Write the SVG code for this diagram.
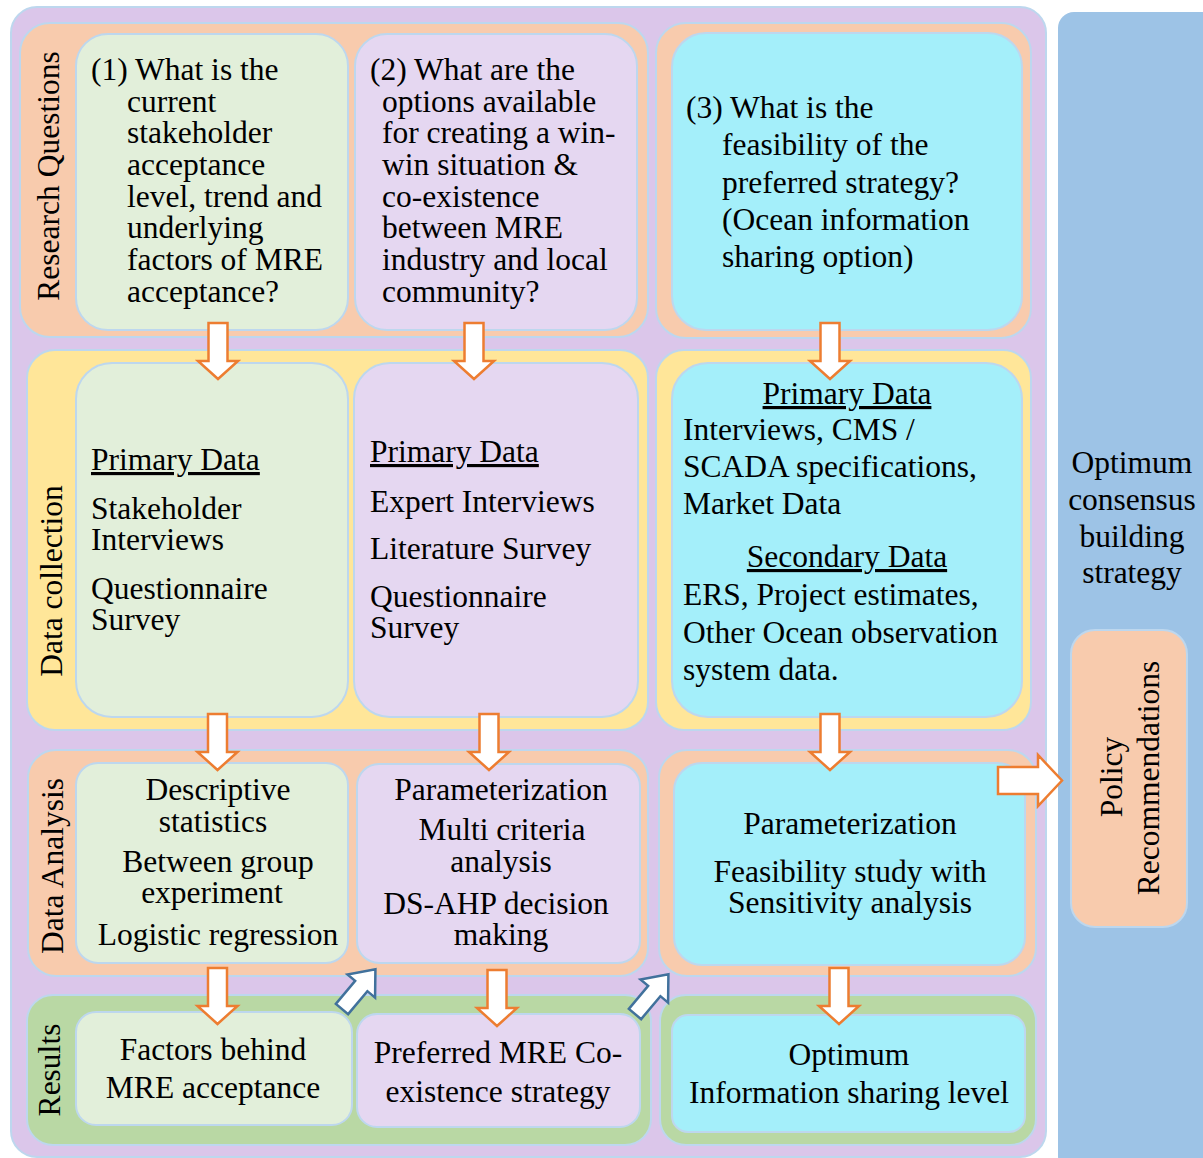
<svg xmlns="http://www.w3.org/2000/svg" width="1203" height="1158" viewBox="0 0 1203 1158">
  <style>
    text { font-family: "Liberation Serif", "Times New Roman", serif; font-size: 31.5px; fill: #000; }
    .mid { text-anchor: middle; }
    .u { text-decoration: underline; }
    .panel { stroke: #BDD7EE; stroke-width: 2; }
    .outer { fill: #DBC6EA; }
    .side { fill: #9DC3E6; }
    .band-o { fill: #F8CBAD; }
    .band-y { fill: #FFE699; }
    .band-g { fill: #B9D8A4; }
    .c1 { fill: #E2EFDA; }
    .c2 { fill: #E5D7F1; }
    .c3 { fill: #A4EFFA; }
    .arr { fill: #FFFFFF; stroke: #ED7D31; stroke-width: 2.5; stroke-linejoin: miter; }
    .arr-b { fill: #FFFFFF; stroke: #41719C; stroke-width: 2.5; stroke-linejoin: miter; }
  </style>
  <defs>
    <!-- block arrow pointing down, origin at shaft top centre -->
    <path id="down" d="M-9.5,0 L9.5,0 L9.5,38 L20,38 L0,56 L-20,38 L-9.5,38 Z"/>
    <!-- block arrow pointing right, origin at tail centre -->
    <path id="fwd" d="M0,-8 L30,-8 L30,-18 L52,0 L30,18 L30,8 L0,8 Z"/>
  </defs>

  <!-- background panels -->
  <rect class="outer panel" x="11" y="7" width="1035" height="1150" rx="26"/>
  <rect class="side" x="1058" y="12" width="160" height="1160" rx="16"/>

  <!-- row bands -->
  <g id="bands">
    <rect class="band-o panel" x="20" y="23" width="628" height="314" rx="30"/>
    <rect class="band-o panel" x="656" y="23" width="375" height="315" rx="30"/>
    <rect class="band-y panel" x="27" y="350" width="621" height="380" rx="28"/>
    <rect class="band-y panel" x="656" y="350" width="375" height="380" rx="28"/>
    <rect class="band-o panel" x="28" y="750" width="620" height="226" rx="28"/>
    <rect class="band-o panel" x="659" y="750" width="377" height="226" rx="28"/>
    <rect class="band-g panel" x="27" y="995" width="624" height="150" rx="26"/>
    <rect class="band-g panel" x="660" y="995" width="376" height="150" rx="26"/>
  </g>

  <!-- row labels -->
  <g id="row-labels">
    <text class="mid" transform="translate(59,176) rotate(-90)">Research Questions</text>
    <text class="mid" transform="translate(62,581) rotate(-90)">Data collection</text>
    <text class="mid" transform="translate(63,866) rotate(-90)">Data Analysis</text>
    <text class="mid" transform="translate(60,1070) rotate(-90)">Results</text>
  </g>

  <!-- research questions -->
  <g id="rq1">
    <rect class="c1 panel" x="76" y="34" width="272" height="296" rx="32"/>
    <text x="91" y="80">(1) What is the</text>
    <text x="127" y="112">current</text>
    <text x="127" y="143">stakeholder</text>
    <text x="127" y="175">acceptance</text>
    <text x="127" y="207">level, trend and</text>
    <text x="127" y="238">underlying</text>
    <text x="127" y="270">factors of MRE</text>
    <text x="127" y="302">acceptance?</text>
  </g>
  <g id="rq2">
    <rect class="c2 panel" x="355" y="34" width="282" height="296" rx="32"/>
    <text x="370" y="80">(2) What are the</text>
    <text x="382" y="112">options available</text>
    <text x="382" y="143">for creating a win-</text>
    <text x="382" y="175">win situation &amp;</text>
    <text x="382" y="207">co-existence</text>
    <text x="382" y="238">between MRE</text>
    <text x="382" y="270">industry and local</text>
    <text x="382" y="302">community?</text>
  </g>
  <g id="rq3">
    <rect class="c3 panel" x="672" y="33" width="350" height="297" rx="34"/>
    <text x="686" y="118">(3) What is the</text>
    <text x="722" y="155">feasibility of the</text>
    <text x="722" y="193">preferred strategy?</text>
    <text x="722" y="230">(Ocean information</text>
    <text x="722" y="267">sharing option)</text>
  </g>

  <!-- data collection -->
  <g id="dc1">
    <rect class="c1 panel" x="76" y="363" width="272" height="354" rx="36"/>
    <text class="u" x="91" y="470">Primary Data</text>
    <text x="91" y="519">Stakeholder</text>
    <text x="91" y="550">Interviews</text>
    <text x="91" y="599">Questionnaire</text>
    <text x="91" y="630">Survey</text>
  </g>
  <g id="dc2">
    <rect class="c2 panel" x="354" y="363" width="284" height="354" rx="36"/>
    <text class="u" x="370" y="462">Primary Data</text>
    <text x="370" y="512">Expert Interviews</text>
    <text x="370" y="559">Literature Survey</text>
    <text x="370" y="607">Questionnaire</text>
    <text x="370" y="638">Survey</text>
  </g>
  <g id="dc3">
    <rect class="c3 panel" x="672" y="363" width="350" height="354" rx="36"/>
    <text class="u mid" x="847" y="404">Primary Data</text>
    <text x="683" y="440">Interviews, CMS /</text>
    <text x="683" y="477">SCADA specifications,</text>
    <text x="683" y="514">Market Data</text>
    <text class="u mid" x="847" y="567">Secondary Data</text>
    <text x="683" y="605">ERS, Project estimates,</text>
    <text x="683" y="643">Other Ocean observation</text>
    <text x="683" y="680">system data.</text>
  </g>

  <!-- data analysis -->
  <g id="da1">
    <rect class="c1 panel" x="76" y="763" width="272" height="200" rx="22"/>
    <text class="mid" x="218" y="800">Descriptive</text>
    <text class="mid" x="213" y="832">statistics</text>
    <text class="mid" x="218" y="872">Between group</text>
    <text class="mid" x="212" y="903">experiment</text>
    <text class="mid" x="218" y="945">Logistic regression</text>
  </g>
  <g id="da2">
    <rect class="c2 panel" x="357" y="764" width="283" height="199" rx="22"/>
    <text class="mid" x="501" y="800">Parameterization</text>
    <text class="mid" x="502" y="840">Multi criteria</text>
    <text class="mid" x="501" y="872">analysis</text>
    <text class="mid" x="496" y="914">DS-AHP decision</text>
    <text class="mid" x="501" y="945">making</text>
  </g>
  <g id="da3">
    <rect class="c3 panel" x="674" y="763" width="351" height="202" rx="28"/>
    <text class="mid" x="850" y="834">Parameterization</text>
    <text class="mid" x="850" y="882">Feasibility study with</text>
    <text class="mid" x="850" y="913">Sensitivity analysis</text>
  </g>

  <!-- results -->
  <g id="res1">
    <rect class="c1 panel" x="76" y="1012" width="276" height="113" rx="20"/>
    <text class="mid" x="213" y="1060">Factors behind</text>
    <text class="mid" x="213" y="1098">MRE acceptance</text>
  </g>
  <g id="res2">
    <rect class="c2 panel" x="357" y="1014" width="283" height="113" rx="20"/>
    <text class="mid" x="498" y="1063">Preferred MRE Co-</text>
    <text class="mid" x="498" y="1102">existence strategy</text>
  </g>
  <g id="res3">
    <rect class="c3 panel" x="672" y="1015" width="353" height="117" rx="16"/>
    <text class="mid" x="849" y="1065">Optimum</text>
    <text class="mid" x="849" y="1103">Information sharing level</text>
  </g>

  <!-- side column -->
  <g id="strategy">
    <text class="mid" x="1132" y="473">Optimum</text>
    <text class="mid" x="1132" y="510">consensus</text>
    <text class="mid" x="1132" y="547">building</text>
    <text class="mid" x="1132" y="583">strategy</text>
  </g>
  <g id="policy">
    <rect class="band-o panel" x="1071" y="630" width="116" height="297" rx="24"/>
    <text class="mid" transform="translate(1122,777) rotate(-90)">Policy</text>
    <text class="mid" transform="translate(1159,778) rotate(-90)">Recommendations</text>
  </g>

  <!-- connectors -->
  <g id="connectors">
    <use href="#down" class="arr" x="218" y="323"/>
    <use href="#down" class="arr" x="474" y="323"/>
    <use href="#down" class="arr" x="830" y="323"/>
    <use href="#down" class="arr" x="217.5" y="714"/>
    <use href="#down" class="arr" x="489" y="714"/>
    <use href="#down" class="arr" x="830" y="714"/>
    <use href="#down" class="arr" x="217.5" y="968"/>
    <use href="#down" class="arr" x="497" y="970"/>
    <use href="#down" class="arr" x="839" y="968"/>
    <path class="arr" d="M998,767 L1038,767 L1038,755 L1062,780.5 L1038,806 L1038,794 L998,794 Z"/>
    <use href="#fwd" class="arr-b" transform="translate(342,1009) rotate(-50)"/>
    <use href="#fwd" class="arr-b" transform="translate(635,1014) rotate(-50)"/>
  </g>
</svg>
